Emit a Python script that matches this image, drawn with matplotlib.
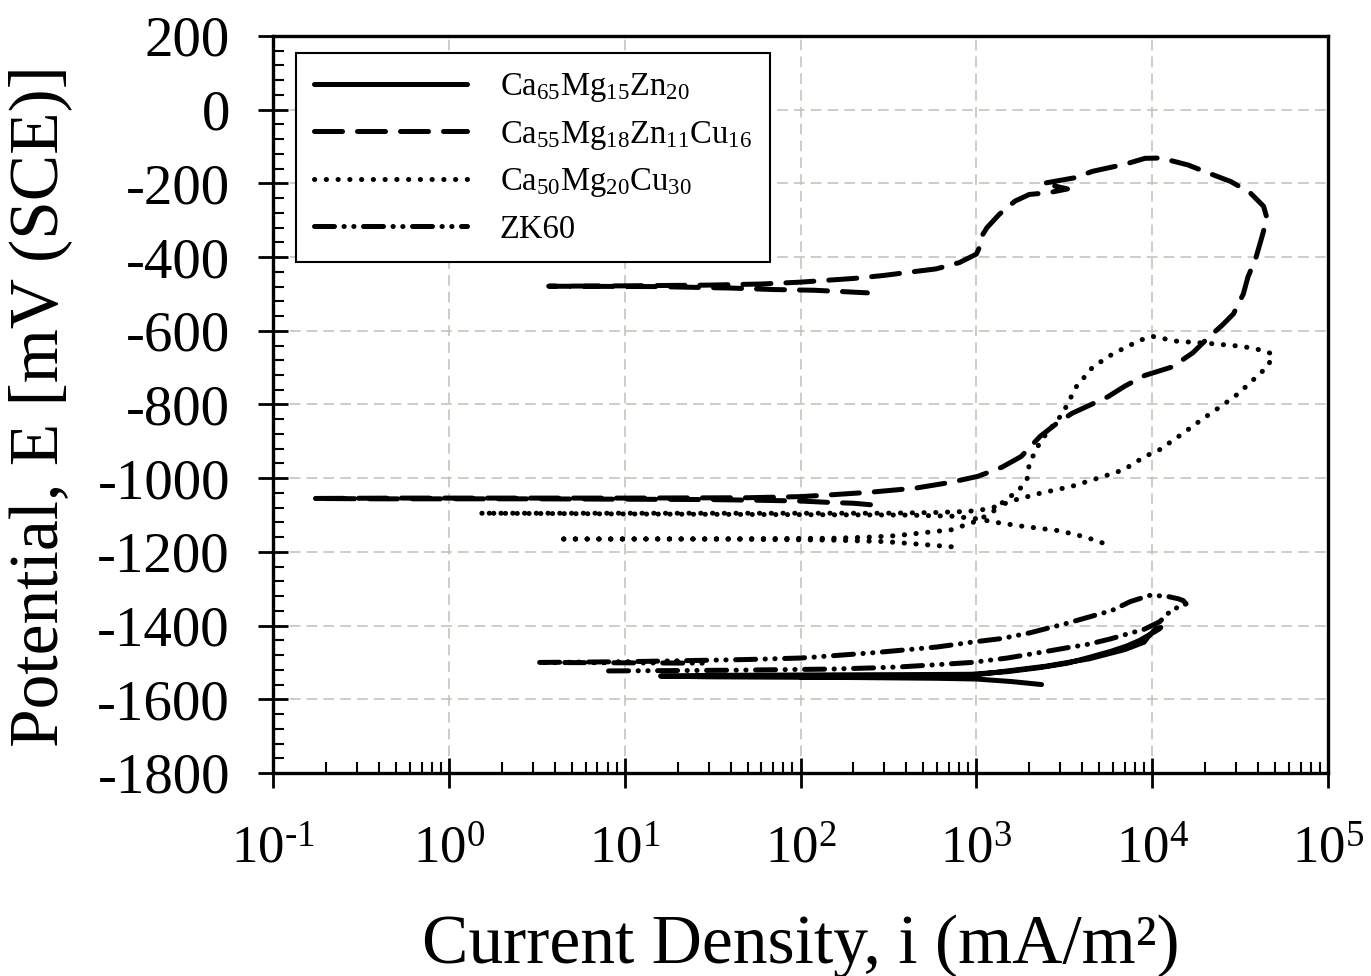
import matplotlib
matplotlib.use("Agg")
import matplotlib.pyplot as plt
from matplotlib.ticker import FixedLocator, LogLocator, MultipleLocator, NullFormatter

plt.rcParams['font.family'] = ['Liberation Serif', 'DejaVu Serif']
plt.rcParams['mathtext.fontset'] = 'custom'
plt.rcParams['mathtext.rm'] = 'Liberation Serif'
plt.rcParams['mathtext.it'] = 'Liberation Serif:italic'
plt.rcParams['mathtext.bf'] = 'Liberation Serif:bold'
plt.rcParams['axes.unicode_minus'] = False

# ---------------- data ----------------
# Ca55Mg18Zn11Cu16 (dashed)
cu16_i = [250, 200, 150, 100, 60, 30, 10, 3, 1, 0.4, 0.17,
          0.5, 2, 10, 50, 100, 150, 250, 450, 700, 1020, 1400, 1800, 2300, 2800,
          3500, 4500, 5600, 7000, 9100, 1.3e4, 1.7e4, 2.1e4, 2.5e4, 2.9e4, 3.3e4,
          3.5e4, 3.9e4, 4.2e4, 4.5e4, 4.3e4, 3.6e4, 2.8e4, 2.2e4, 1.6e4, 1.12e4,
          9.1e3, 7e3, 4.6e3, 3.6e3, 2.4e3, 3.3e3, 2.6e3, 2.0e3, 1.66e3, 1.35e3,
          1.15e3, 1.09e3, 1.05e3, 1.0e3, 800, 590, 400, 295, 200, 150, 100, 60,
          30, 10, 3.7, 15, 40, 70, 120, 180, 240]
cu16_E = [-1072, -1068, -1066, -1062, -1060, -1058, -1057, -1056, -1056, -1056, -1055,
          -1054, -1054, -1054, -1053, -1050, -1045, -1038, -1027, -1012, -995, -970, -941, -887, -855,
          -824, -800, -779, -750, -721, -698, -660, -617, -585, -554, -500,
          -455, -400, -347, -295, -262, -225, -195, -176, -150, -131,
          -132, -148, -167, -185, -200, -215, -225, -230, -248, -284,
          -320, -338, -370, -392, -415, -432, -442, -450, -458, -462, -468, -473,
          -476, -478, -479, -480, -484, -488, -490, -494, -497]

# Ca50Mg20Cu30 (dotted)
cu30_i = [720, 500, 300, 150, 50, 15, 4.5,
          10, 50, 150, 245, 350, 500, 720, 930, 1020, 1250, 1450, 1740, 1950,
          2000, 2200, 2350, 3100, 3700, 4600, 6000, 8500, 1.0e4, 1.37e4, 2.2e4,
          3.2e4, 3.9e4, 4.8e4, 4.6e4, 4.0e4, 3.1e4, 2.6e4, 1.9e4, 1.5e4, 1.1e4,
          9.1e3, 6.9e3, 5.3e3, 3.5e3, 2.3e3, 1.66e3, 1.3e3, 1.1e3, 900, 600, 300,
          100, 30, 5, 1.5,
          10, 100, 400, 720, 1000, 1300, 1740, 3000, 4200, 5400]
cu30_E = [-1186, -1180, -1172, -1168, -1166, -1165, -1165,
          -1165, -1164, -1163, -1160, -1156, -1148, -1140, -1122, -1115, -1090, -1060, -1034, -1000,
          -961, -920, -896, -824, -752, -698, -662, -626, -615, -628, -635,
          -642, -649, -662, -694, -721, -770, -797, -842, -878, -923,
          -941, -977, -995, -1022, -1041, -1059, -1077, -1085, -1090, -1093, -1095,
          -1095, -1095, -1095, -1095,
          -1097, -1099, -1100, -1103, -1110, -1120, -1129, -1143, -1160, -1178]

# ZK60 (dash-dot-dot)
zk60_i = [8.1, 20, 43, 100, 148, 250, 370, 600, 940, 1500, 2300, 3300, 4400,
          5800, 7200, 9000, 1.1e4, 1.25e4, 1.4e4, 1.56e4, 1.5e4, 1.4e4, 1.2e4,
          9.7e3, 7.5e3, 5.9e3, 4.5e3, 3.2e3, 2.0e3, 1.4e3, 940, 600, 270, 150,
          100, 50, 23, 10, 3.2, 10, 30]
zk60_E = [-1523, -1522, -1521, -1519, -1518, -1515, -1512, -1506, -1500, -1488, -1473, -1460, -1450,
          -1436, -1423, -1410, -1390, -1364, -1350, -1341, -1332, -1327, -1320,
          -1318, -1335, -1359, -1375, -1395, -1420, -1435, -1445, -1458, -1473, -1482,
          -1488, -1492, -1495, -1498, -1500, -1501, -1502]

# Ca65Mg15Zn20 (solid)
zn20_i = [2350, 1600, 1000, 600, 200, 80, 30, 16,
          30, 100, 400, 940, 1500, 2300, 3300, 4400, 5800, 7200, 8500, 9800,
          1.1e4, 1.12e4, 1.05e4, 9.5e3, 9e3, 7e3, 4.4e3, 2.5e3, 940, 300, 100]
zn20_E = [-1560, -1552, -1545, -1543, -1541, -1540, -1539, -1537,
          -1535, -1534, -1533, -1532, -1525, -1514, -1502, -1486, -1470, -1455, -1440, -1423,
          -1409, -1405, -1408, -1430, -1445, -1465, -1490, -1510, -1535, -1538, -1540]

series_labels = [r'$\mathrm{Ca_{65}Mg_{15}Zn_{20}}$',
                 r'$\mathrm{Ca_{55}Mg_{18}Zn_{11}Cu_{16}}$',
                 r'$\mathrm{Ca_{50}Mg_{20}Cu_{30}}$',
                 'ZK60']

x_ticks = [1e-1, 1e0, 1e1, 1e2, 1e3, 1e4, 1e5]
x_tick_labels = [r'$10^{\text{-}1}$', r'$10^{0}$', r'$10^{1}$', r'$10^{2}$',
                 r'$10^{3}$', r'$10^{4}$', r'$10^{5}$']
y_ticks = [-1800, -1600, -1400, -1200, -1000, -800, -600, -400, -200, 0, 200]
y_tick_labels = ['-1800', '-1600', '-1400', '-1200', '-1000', '-800', '-600',
                 '-400', '-200', '0', '200']

# ---------------- figure ----------------
fig = plt.figure(figsize=(13.71, 9.76), dpi=100)
ax = fig.add_axes([273/1371, 1 - 773/976, (1328 - 273)/1371, (773 - 36)/976])

LW = 3.6
styles = [
    dict(linestyle='-'),
    dict(linestyle=(0, (5.6, 3.0))),
    dict(linestyle=(0, (0.05, 2.3))),
    dict(linestyle=(0, (4.0, 1.9, 0.05, 1.9, 0.05, 1.9))),
]
data = [(zn20_i, zn20_E), (cu16_i, cu16_E), (cu30_i, cu30_E), (zk60_i, zk60_E)]
for (xi, yi), st, lab in zip(data, styles, series_labels):
    ax.plot(xi, yi, color='black', lw=LW, dash_capstyle='round',
            solid_capstyle='round', solid_joinstyle='round', label=lab, **st)

ax.set_xscale('log')
ax.set_xlim(1e-1, 1e5)
ax.set_ylim(-1800, 200)

ax.xaxis.set_major_locator(FixedLocator(x_ticks))
ax.set_xticklabels(x_tick_labels)
ax.xaxis.set_minor_locator(LogLocator(base=10, subs=[2, 3, 4, 5, 6, 7, 8, 9], numticks=20))
ax.xaxis.set_minor_formatter(NullFormatter())
ax.yaxis.set_major_locator(FixedLocator(y_ticks))
ax.set_yticklabels(y_tick_labels)
ax.yaxis.set_minor_locator(MultipleLocator(40))

ax.tick_params(axis='both', which='major', direction='inout', length=22, width=2.0,
               top=False, right=False)
ax.tick_params(axis='both', which='minor', direction='in', length=8, width=1.5,
               top=False, right=False)
ax.tick_params(axis='x', which='major', labelsize=38, pad=27)
ax.tick_params(axis='y', which='major', labelsize=41, pad=20)

for sp in ax.spines.values():
    sp.set_linewidth(2.4)

ax.grid(True, which='major', color='#c2c0b3', linestyle=(0, (7, 4)), linewidth=1.1)
ax.set_axisbelow(True)

fig.text(40/1371, 1 - 406/976, 'Potential, E [mV (SCE)]', rotation=90,
         ha='center', va='center', fontsize=50)
fig.text(801/1371, 1 - 963/976, 'Current Density, i (mA/m²)',
         ha='center', va='baseline', fontsize=50)

leg = ax.legend(loc='upper left', bbox_to_anchor=(296/1371, 1 - 53/976),
                bbox_transform=fig.transFigure, borderaxespad=0,
                fontsize=23.5, handlelength=4.7, handletextpad=1.0,
                labelspacing=0.45, borderpad=0.55, fancybox=False,
                framealpha=1, edgecolor='black')
leg.get_frame().set_linewidth(1.5)

fig.savefig('out.png', dpi=100)
